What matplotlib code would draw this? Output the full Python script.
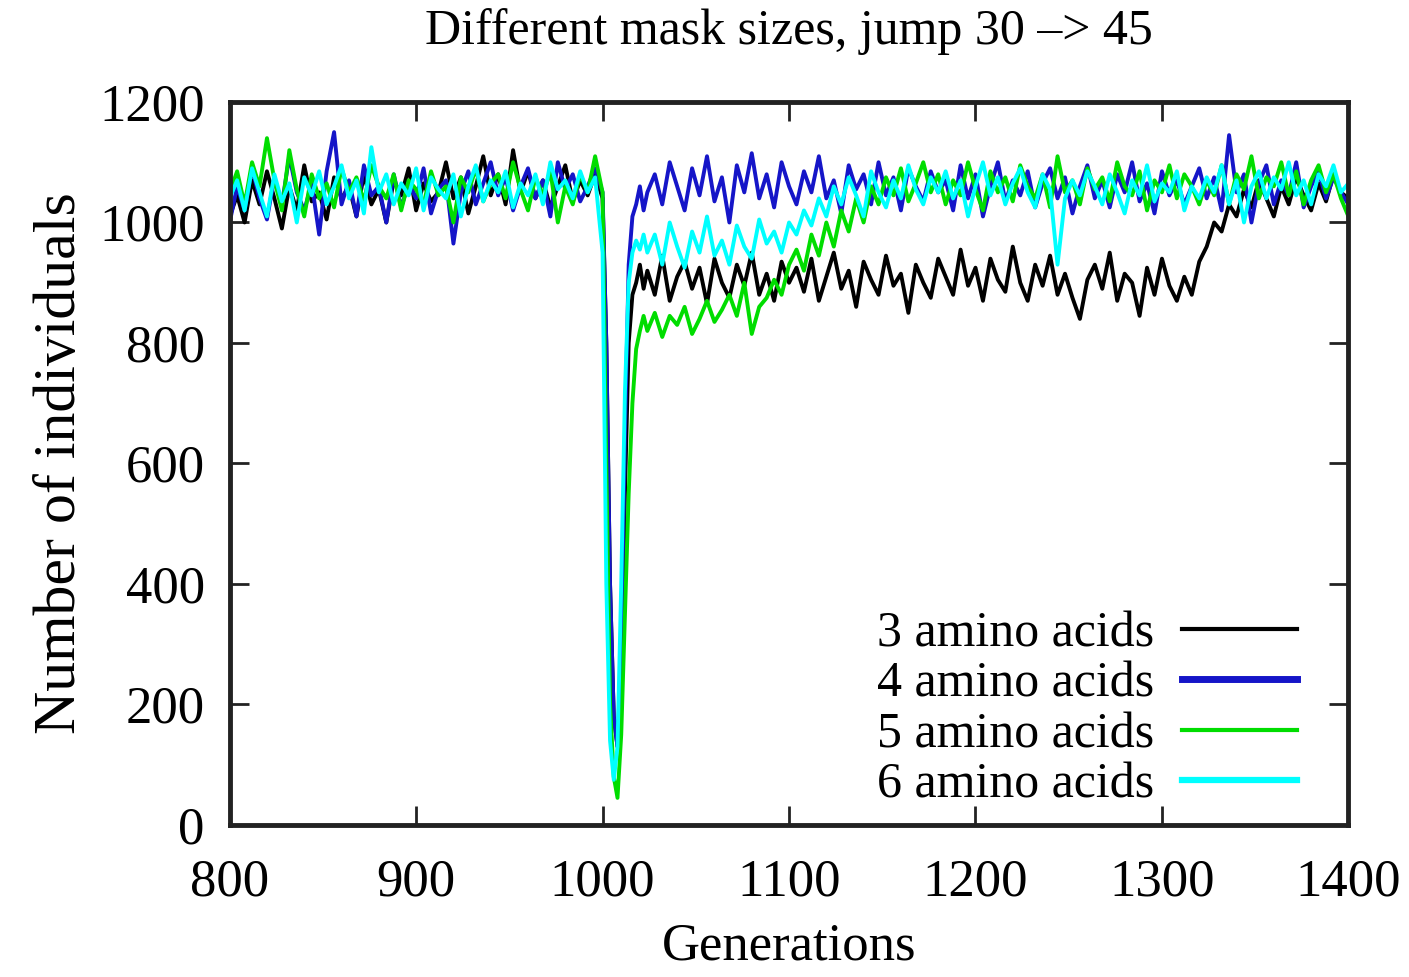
import matplotlib
matplotlib.use("Agg")
import matplotlib.pyplot as plt
import numpy as np

# generations: every 4 before/after the jump, every 2 around it
gens = np.concatenate([np.arange(800, 1000, 4), np.arange(1000, 1024, 2), np.arange(1024, 1401, 4)])

aa3 = [1010, 1045, 1000, 1070, 1030, 1085, 1040, 990, 1060, 1020, 1095, 1035, 1050, 1005, 1075, 1040, 1060, 1010, 1080, 1030,
       1055, 1000, 1070, 1045, 1090, 1020, 1065, 1035, 1050, 1100, 1040, 1075, 1015, 1060, 1110, 1045, 1080, 1030, 1120, 1050,
       1085, 1040, 1070, 1025, 1060, 1095, 1035, 1070, 1045, 1080,
       1040, 800, 400, 180, 130, 250, 550, 800, 880, 900, 930, 890,
       920, 880, 945, 870, 910, 935, 890, 925, 865, 940, 900, 875, 930, 895, 950, 880, 915, 870, 935, 900,
       925, 885, 940, 870, 910, 950, 890, 920, 860, 935, 905, 880, 945, 895, 915, 850, 930, 900, 875, 940,
       910, 880, 955, 895, 925, 870, 940, 905, 885, 960, 900, 870, 930, 895, 945, 880, 915, 875, 840, 905,
       930, 890, 950, 870, 915, 900, 845, 925, 880, 940, 895, 870, 910, 880, 935,
       960, 1000, 985, 1030, 1010, 1055, 1025, 1070, 1040, 1010, 1060, 1030, 1075, 1045, 1020, 1065, 1035, 1080, 1050, 1040]

aa4 = [1000, 1060, 1020, 1090, 1040, 1005, 1075, 1030, 1110, 1050, 1020, 1065, 980, 1085, 1150, 1030, 1070, 1010, 1095, 1045,
       1060, 1000, 1080, 1025, 1065, 1040, 1090, 1015, 1055, 1070, 965, 1050, 1085, 1030, 1065, 1100, 1045, 1075, 1020, 1060,
       1090, 1040, 1070, 1010, 1100, 1055, 1080, 1035, 1060, 1090,
       1050, 800, 400, 180, 130, 300, 650, 930, 1010, 1030, 1060, 1020,
       1050, 1080, 1030, 1100, 1060, 1020, 1090, 1045, 1110, 1035, 1075, 1000, 1095, 1050, 1115, 1040, 1080, 1025, 1100, 1060,
       1030, 1085, 1050, 1110, 1040, 1070, 1015, 1095, 1055, 1080, 1030, 1100, 1045, 1075, 1020, 1090, 1060, 1035, 1085, 1050,
       1070, 1020, 1095, 1040, 1080, 1010, 1060, 1100, 1035, 1070, 1045, 1085, 1025, 1065, 1090, 1040, 1075, 1015, 1060, 1095,
       1040, 1070, 1025, 1080, 1050, 1100, 1035, 1065, 1015, 1085, 1045, 1070, 1030, 1060, 1090,
       1040, 1075, 1020, 1145, 1050, 1080, 1000, 1065, 1095, 1030, 1070, 1045, 1100, 1025, 1060, 1085, 1040, 1075, 1050, 1030]

aa5 = [1050, 1085, 1030, 1100, 1060, 1140, 1070, 1020, 1120, 1055, 1010, 1080, 1040, 1065, 1025, 1090, 1050, 1075, 1035, 1095,
       1060, 1040, 1080, 1020, 1070, 1055, 1030, 1085, 1045, 1060, 1000, 1075, 1050, 1090, 1035, 1065, 1080, 1040, 1100, 1055,
       1020, 1075, 1045, 1085, 1000, 1060, 1030, 1080, 1050, 1110,
       1050, 600, 200, 80, 45, 150, 350, 550, 700, 790, 820, 845,
       820, 850, 810, 845, 830, 860, 815, 840, 870, 835, 855, 880, 845, 900, 815, 860, 875, 905, 880, 930,
       955, 920, 980, 945, 1000, 960, 1020, 985, 1040, 1000, 1060, 1030, 1075, 1045, 1090, 1035, 1065, 1100, 1050, 1080,
       1030, 1070, 1045, 1100, 1055, 1020, 1085, 1050, 1075, 1035, 1095, 1060, 1040, 1080, 1025, 1110, 1050, 1070, 1030, 1090,
       1055, 1075, 1035, 1100, 1060, 1045, 1085, 1020, 1070, 1050, 1095, 1040, 1080, 1060, 1030,
       1070, 1045, 1095, 1030, 1080, 1055, 1110, 1040, 1075, 1060, 1100, 1045, 1085, 1030, 1070, 1095, 1050, 1080, 1040, 1010]

aa6 = [1040, 1070, 1020, 1090, 1050, 1010, 1080, 1035, 1065, 1000, 1075, 1045, 1085, 1030, 1060, 1095, 1040, 1070, 1015, 1125,
       1050, 1080, 1030, 1065, 1045, 1090, 1020, 1075, 1055, 1040, 1080, 1010, 1060, 1095, 1035, 1070, 1050, 1085, 1025, 1065,
       1045, 1080, 1030, 1100, 1055, 1070, 1040, 1085, 1050, 1075,
       950, 400, 140, 75, 130, 400, 720, 900, 950, 970, 955, 980,
       950, 980, 930, 1000, 960, 925, 985, 950, 1010, 945, 970, 930, 995, 960, 940, 1005, 965, 985, 950, 1000,
       980, 1020, 995, 1040, 1010, 1060, 1030, 1075, 1045, 1010, 1085, 1050, 1025, 1070, 1040, 1095, 1055, 1030, 1075, 1050,
       1085, 1040, 1070, 1010, 1060, 1100, 1045, 1075, 1030, 1065, 1090, 1050, 1025, 1080, 1055, 930, 1040, 1070, 1045, 1085,
       1060, 1030, 1080, 1050, 1015, 1070, 1045, 1095, 1035, 1065, 1050, 1085, 1020, 1060, 1040,
       1075, 1050, 1095, 1030, 1070, 1000, 1060, 1085, 1040, 1075, 1055, 1100, 1045, 1070, 1030, 1080, 1060, 1095, 1050, 1065]

labels = ['3 amino acids', '4 amino acids', '5 amino acids', '6 amino acids']
colors = ['#000000', '#1515c8', '#00dd00', '#00ffff']
leg_widths = [3.0, 5.0, 3.0, 4.5]

plt.rcParams['font.family'] = ['Liberation Serif', 'DejaVu Serif']
fig = plt.figure(figsize=(14.09, 9.77), dpi=100)
ax = fig.add_axes([0.163, 0.1556, 0.794, 0.74])

for ys, lab, c in zip([aa3, aa4, aa5, aa6], labels, colors):
    ax.plot(gens, ys, '-', color=c, lw=2.8, label=lab)

ax.set_xlim(800, 1400)
ax.set_ylim(0, 1200)
ax.set_xticks(np.arange(800, 1401, 100))
ax.set_yticks(np.arange(0, 1201, 200))
ax.tick_params(direction='in', length=14, width=2, labelsize=38, pad=14,
               top=True, right=True, colors='#222222', labelcolor='black')
ax.tick_params(axis='x', pad=24)
ax.tick_params(axis='y', pad=18)
for s in ax.spines.values():
    s.set_linewidth(3.5)
    s.set_color('#222222')

ax.set_title('Different mask sizes, jump 30 \u2013> 45', fontsize=36, pad=42)
ax.set_xlabel('Generations', fontsize=38, labelpad=12)
ax.set_ylabel('Number of individuals', fontsize=43, labelpad=8)

leg = ax.legend(loc='lower right', bbox_to_anchor=(0.972, -0.005), frameon=False, markerfirst=False,
                fontsize=36, handlelength=2.3, labelspacing=0.08, borderaxespad=0.0,
                handletextpad=0.55)
for h, w in zip(leg.get_lines(), leg_widths):
    h.set_linewidth(w)

fig.savefig('out.png', dpi=100)
